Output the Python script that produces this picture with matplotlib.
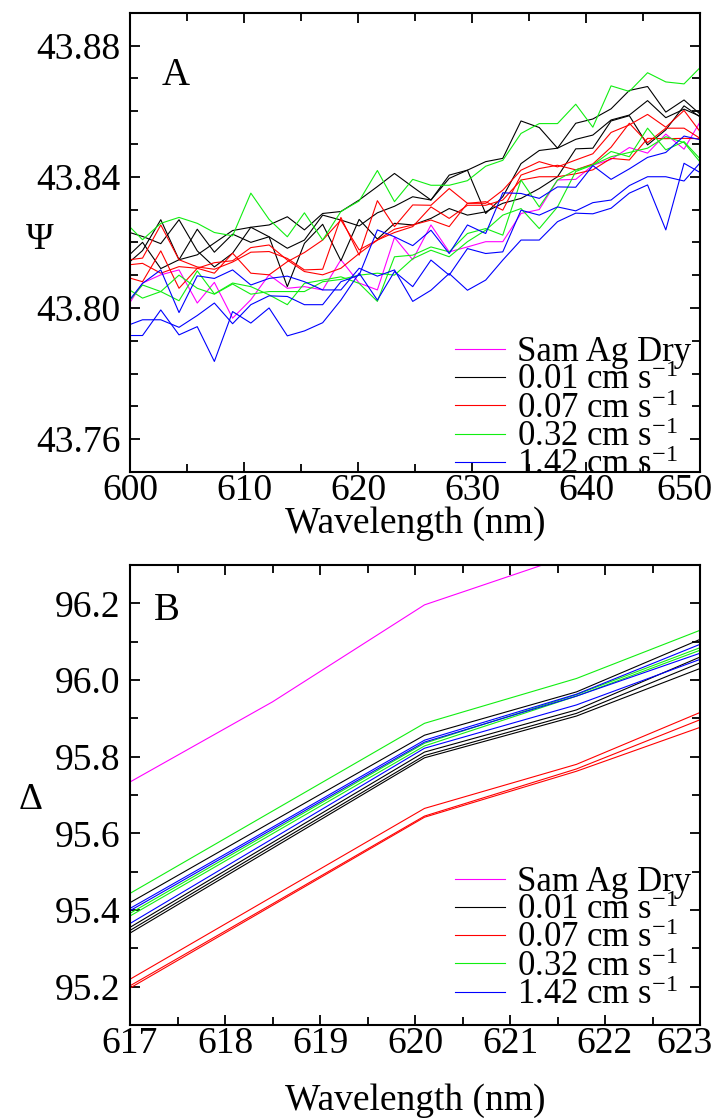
import matplotlib
matplotlib.use("Agg")
import matplotlib.pyplot as plt
from matplotlib.ticker import MultipleLocator, FormatStrFormatter
from matplotlib.transforms import ScaledTranslation

plt.rcParams['font.family'] = ['Liberation Serif', 'DejaVu Serif']
plt.rcParams['mathtext.fontset'] = 'custom'
plt.rcParams['mathtext.rm'] = 'Liberation Serif'
plt.rcParams['mathtext.it'] = 'Liberation Serif:italic'

labels = ['Sam Ag Dry', '0.01 cm s$^{-1}$', '0.07 cm s$^{-1}$', '0.32 cm s$^{-1}$', '1.42 cm s$^{-1}$']
colors = ['#ff00ff', '#000000', '#ff0000', '#11ee11', '#0000ff']

# ---------------- Panel A data (Psi) ----------------
wl_a = [599.5, 601.1, 602.7, 604.3, 605.9, 607.4, 609.0, 610.6, 612.2, 613.8, 615.3,
        616.9, 618.5, 620.1, 621.7, 623.2, 624.8, 626.4, 628.0, 629.6, 631.2, 632.7,
        634.3, 635.9, 637.5, 639.1, 640.6, 642.2, 643.8, 645.4, 647.0, 648.6, 650.1]

psi_dry = [43.7990, 43.8076, 43.8101, 43.8116, 43.8015, 43.8078, 43.7969, 43.8025, 43.8101,
           43.8060, 43.8065, 43.8055, 43.8147, 43.8076, 43.8055, 43.8215, 43.8147, 43.8253,
           43.8171, 43.8186, 43.8202, 43.8202, 43.8288, 43.8300, 43.8390, 43.8392, 43.8435,
           43.8453, 43.8489, 43.8472, 43.8530, 43.8484, 43.8573]

psi_001 = [
    [43.8235, 43.8218, 43.8196, 43.8269, 43.8174, 43.8125, 43.8167, 43.8246, 43.8253,
     43.8278, 43.8238, 43.8288, 43.8294, 43.8329, 43.8370, 43.8410, 43.8369, 43.8329,
     43.8405, 43.8420, 43.8446, 43.8456, 43.8570, 43.8550, 43.8487, 43.8563, 43.8576,
     43.8607, 43.8663, 43.8675, 43.8597, 43.8634, 43.8588],
    [43.8126, 43.8175, 43.8269, 43.8147, 43.8240, 43.8170, 43.8225, 43.8200, 43.8217,
     43.8182, 43.8207, 43.8283, 43.8268, 43.8250, 43.8290, 43.8310, 43.8339, 43.8329,
     43.8395, 43.8420, 43.8288, 43.8339, 43.8440, 43.8480, 43.8487, 43.8514, 43.8527,
     43.8573, 43.8588, 43.8632, 43.8580, 43.8606, 43.8583],
    [43.8147, 43.8200, 43.8120, 43.8147, 43.8162, 43.8198, 43.8236, 43.8246, 43.8217,
     43.8065, 43.8197, 43.8255, 43.8144, 43.8270, 43.8210, 43.8258, 43.8253, 43.8273,
     43.8303, 43.8283, 43.8293, 43.8319, 43.8334, 43.8364, 43.8400, 43.8485, 43.8487,
     43.8570, 43.8586, 43.8497, 43.8543, 43.8616, 43.8580],
]

psi_007 = [
    [43.8145, 43.8152, 43.8253, 43.8147, 43.8125, 43.8118, 43.8140, 43.8170, 43.8172,
     43.8151, 43.8116, 43.8118, 43.8276, 43.8161, 43.8327, 43.8248, 43.8314, 43.8313,
     43.8364, 43.8319, 43.8319, 43.8359, 43.8420, 43.8446, 43.8430, 43.8451, 43.8470,
     43.8535, 43.8558, 43.8590, 43.8551, 43.8602, 43.8533],
    [43.8096, 43.8080, 43.8174, 43.8060, 43.8121, 43.8106, 43.8167, 43.8106, 43.8101,
     43.8141, 43.8169, 43.8207, 43.8268, 43.8177, 43.8207, 43.8240, 43.8253, 43.8268,
     43.8248, 43.8319, 43.8324, 43.8298, 43.8405, 43.8425, 43.8435, 43.8421, 43.8439,
     43.8490, 43.8563, 43.8504, 43.8548, 43.8548, 43.8515],
    [43.8130, 43.8136, 43.8106, 43.8126, 43.8121, 43.8138, 43.8144, 43.8184, 43.8192,
     43.8146, 43.8111, 43.8101, 43.8121, 43.8166, 43.8207, 43.8230, 43.8248, 43.8308,
     43.8273, 43.8313, 43.8313, 43.8329, 43.8390, 43.8400, 43.8400, 43.8409, 43.8421,
     43.8456, 43.8451, 43.8517, 43.8516, 43.8517, 43.8516],
]

psi_032 = [
    [43.8264, 43.8208, 43.8258, 43.8276, 43.8258, 43.8230, 43.8220, 43.8350, 43.8270,
     43.8217, 43.8290, 43.8207, 43.8294, 43.8326, 43.8419, 43.8324, 43.8392, 43.8374,
     43.8374, 43.8388, 43.8432, 43.8450, 43.8532, 43.8562, 43.8562, 43.8621, 43.8551,
     43.8677, 43.8660, 43.8717, 43.8689, 43.8683, 43.8736],
    [43.8065, 43.8030, 43.8050, 43.8022, 43.8113, 43.8043, 43.8076, 43.8065, 43.8040,
     43.8010, 43.8075, 43.8085, 43.8095, 43.8075, 43.8020, 43.8156, 43.8161, 43.8186,
     43.8171, 43.8227, 43.8242, 43.8222, 43.8390, 43.8308, 43.8390, 43.8421, 43.8436,
     43.8477, 43.8461, 43.8548, 43.8482, 43.8507, 43.8451],
    [43.8004, 43.8070, 43.8050, 43.8100, 43.8060, 43.8042, 43.8073, 43.8042, 43.8050,
     43.8050, 43.8050, 43.8080, 43.8087, 43.8100, 43.8106, 43.8100, 43.8150, 43.8176,
     43.8156, 43.8202, 43.8237, 43.8283, 43.8303, 43.8242, 43.8308, 43.8416, 43.8436,
     43.8461, 43.8474, 43.8487, 43.8522, 43.8504, 43.8441],
]

psi_142 = [
    [43.7943, 43.7964, 43.7964, 43.7941, 43.7977, 43.8015, 43.7952, 43.8010, 43.8037,
     43.8035, 43.8010, 43.8010, 43.8080, 43.8100, 43.8238, 43.8217, 43.8190, 43.8237,
     43.8166, 43.8253, 43.8227, 43.8351, 43.8349, 43.8334, 43.8369, 43.8368, 43.8434,
     43.8392, 43.8424, 43.8459, 43.8474, 43.8524, 43.8512],
    [43.7916, 43.7916, 43.7994, 43.7918, 43.7943, 43.7837, 43.7989, 43.7954, 43.8000,
     43.7915, 43.7930, 43.7955, 43.8024, 43.8106, 43.8024, 43.8111, 43.8065, 43.8146,
     43.8100, 43.8181, 43.8166, 43.8171, 43.8298, 43.8283, 43.8308, 43.8296, 43.8321,
     43.8329, 43.8373, 43.8400, 43.8400, 43.8387, 43.8446],
    [43.8004, 43.8075, 43.8116, 43.7986, 43.8098, 43.8090, 43.8116, 43.8070, 43.8090,
     43.8097, 43.8080, 43.8055, 43.8055, 43.8121, 43.8097, 43.8116, 43.8020, 43.8054,
     43.8105, 43.8054, 43.8085, 43.8146, 43.8207, 43.8207, 43.8263, 43.8289, 43.8287,
     43.8304, 43.8350, 43.8375, 43.8238, 43.8441, 43.8411],
]

# ---------------- Panel B data (Delta) ----------------
wl_b = [616.9, 618.5, 620.1, 621.7, 623.2]

delta_dry = [95.720, 95.943, 96.196, 96.330, 96.450]
delta_001 = [
    [95.405, 95.631, 95.856, 95.969, 96.127],
    [95.340, 95.576, 95.812, 95.922, 96.081],
    [95.332, 95.568, 95.803, 95.913, 96.065],
    [95.325, 95.561, 95.797, 95.906, 96.049],
]
delta_007 = [
    [95.205, 95.435, 95.665, 95.780, 95.936],
    [95.188, 95.416, 95.645, 95.768, 95.916],
    [95.182, 95.412, 95.642, 95.762, 95.894],
]
delta_032 = [
    [95.429, 95.658, 95.887, 96.004, 96.149],
    [95.377, 95.606, 95.835, 95.962, 96.103],
    [95.370, 95.599, 95.828, 95.958, 96.096],
]
delta_142 = [
    [95.390, 95.616, 95.843, 95.963, 96.113],
    [95.384, 95.611, 95.838, 95.958, 96.087],
    [95.350, 95.586, 95.822, 95.935, 96.072],
]

W, H = 715, 1120
fig = plt.figure(figsize=(W / 100, H / 100), dpi=100)

def rect(l, t, r, b):
    return [l / W, 1 - b / H, (r - l) / W, (b - t) / H]

axA = fig.add_axes(rect(130, 12.7, 700, 472))
axB = fig.add_axes(rect(130, 565, 700, 1025))

LW = 0.8

def draw(ax, wl, dry, groups):
    ax.plot(wl, dry, color=colors[0], lw=LW, label=labels[0])
    for gi, grp in enumerate(groups):
        for j, series in enumerate(grp):
            ax.plot(wl, series, color=colors[gi + 1], lw=LW,
                    label=labels[gi + 1] if j == 0 else None)

draw(axA, wl_a, psi_dry, [psi_001, psi_007, psi_032, psi_142])
draw(axB, wl_b, delta_dry, [delta_001, delta_007, delta_032, delta_142])

TICK_FS = 27
LABEL_FS = 27

def style(ax):
    for s in ax.spines.values():
        s.set_linewidth(1.5)
    ax.tick_params(which='both', direction='in', top=True, right=True,
                   width=1.3, labelsize=TICK_FS)
    ax.tick_params(axis='y', pad=7)
    ax.tick_params(axis='x', pad=1)
    ax.tick_params(which='major', length=7)
    ax.tick_params(which='minor', length=6)

axA.set_xlim(600, 650)
axA.set_ylim(43.75, 43.89)
axA.xaxis.set_major_locator(MultipleLocator(10))
axA.xaxis.set_minor_locator(MultipleLocator(5))
axA.yaxis.set_major_locator(MultipleLocator(0.04))
axA.yaxis.set_minor_locator(MultipleLocator(0.01))
axA.yaxis.set_major_formatter(FormatStrFormatter('%.2f'))
style(axA)
axA.set_xlabel('Wavelength (nm)', fontsize=LABEL_FS, labelpad=-1)
axA.set_ylabel('Ψ', fontsize=LABEL_FS, rotation=0, va='center', ha='center')
axA.yaxis.set_label_coords(-0.158, 0.505)
axA.text(0.08, 0.864, 'A', transform=axA.transAxes, fontsize=28, ha='center', va='center')

axB.set_xlim(617, 623)
axB.set_ylim(95.1, 96.3)
axB.xaxis.set_major_locator(MultipleLocator(1))
axB.xaxis.set_minor_locator(MultipleLocator(0.5))
axB.yaxis.set_major_locator(MultipleLocator(0.2))
axB.yaxis.set_minor_locator(MultipleLocator(0.1))
axB.yaxis.set_major_formatter(FormatStrFormatter('%.1f'))
style(axB)
axB.set_xlabel('Wavelength (nm)', fontsize=LABEL_FS, labelpad=16)
axB.set_ylabel('Δ', fontsize=LABEL_FS, rotation=0, va='center', ha='center')
axB.yaxis.set_label_coords(-0.175, 0.489)
axB.text(0.065, 0.902, 'B', transform=axB.transAxes, fontsize=28, ha='center', va='center')

leg_centers = {axA: (0.570, 0.137), axB: (0.570, 0.187)}
for ax in (axA, axB):
    ax.legend(loc='center left', bbox_to_anchor=leg_centers[ax], frameon=False,
              fontsize=25, handlelength=1.45, handletextpad=0.35, labelspacing=-0.14,
              borderaxespad=0.0, borderpad=0.0)

# keep the last x tick label inside the figure, as in the reference
fig.canvas.draw()
for ax, last in ((axA, '650'), (axB, '623')):
    for lab in ax.get_xticklabels():
        if lab.get_text() == last:
            lab.set_ha('right')
            lab.set_transform(lab.get_transform() +
                              ScaledTranslation(13 / 100, 0, fig.dpi_scale_trans))

fig.savefig('out.png', dpi=100)
